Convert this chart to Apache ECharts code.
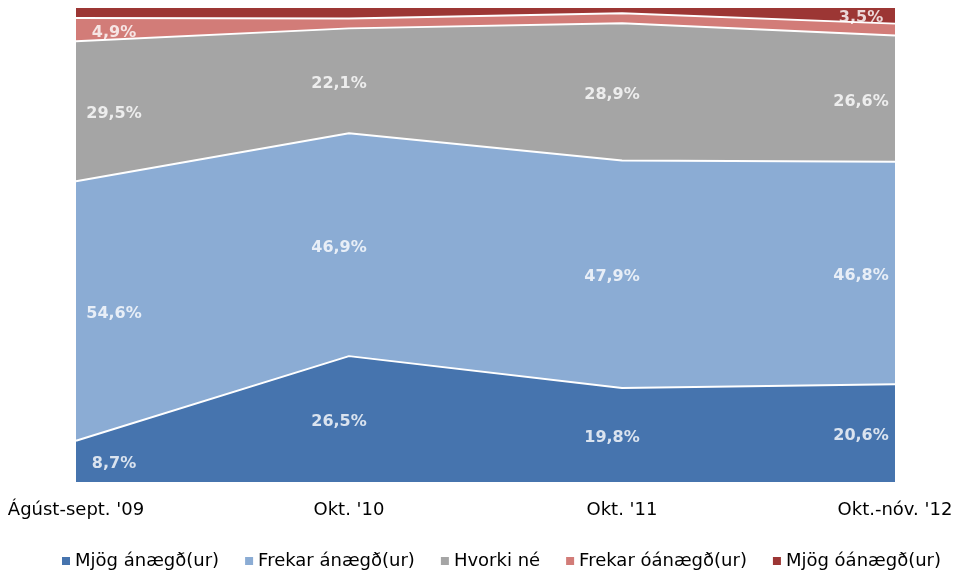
<!DOCTYPE html>
<html>
<head>
<meta charset="utf-8">
<script src="https://cdn.jsdelivr.net/npm/echarts@6/dist/echarts.min.js"></script>
<style>
  html, body { margin: 0; padding: 0; background: #fff; }
  #chart { width: 971px; height: 576px; }
</style>
</head>
<body>
<div id="chart"></div>
<script>
// Survey periods
const categories = ["Ágúst-sept. '09", "Okt. '10", "Okt. '11", "Okt.-nóv. '12"];

// Share of respondents (%) per answer, bottom of the stack first
const mjogAnaegd = [8.7, 26.5, 19.8, 20.6];
const frekarAnaegd = [54.6, 46.9, 47.9, 46.8];
const hvorkiNe = [29.5, 22.1, 28.9, 26.6];
const frekarOanaegd = [4.9, 2.1, 2.1, 2.5];
const mjogOanaegd = [2.3, 2.4, 1.3, 3.5];

const seriesNames = ['Mjög ánægð(ur)', 'Frekar ánægð(ur)', 'Hvorki né', 'Frekar óánægð(ur)', 'Mjög óánægð(ur)'];
const seriesValues = [mjogAnaegd, frekarAnaegd, hvorkiNe, frekarOanaegd, mjogOanaegd];
const colors = ['#4674AE', '#8BACD4', '#A5A5A5', '#D27C78', '#9C3634'];

const fmt = v => v.toFixed(1).replace('.', ',') + '%';

// Stacked areas, white separating lines on top of each band
const areaSeries = seriesValues.map((vals, i) => ({
  name: seriesNames[i],
  type: 'line',
  stack: 'total',
  data: vals,
  symbol: 'none',
  z: 10 - i,
  itemStyle: { color: colors[i] },
  lineStyle: { color: '#ffffff', width: 2 },
  areaStyle: { color: colors[i], opacity: 1 },
  emphasis: { disabled: true },
  silent: true
}));

// Value labels sit at the middle of each band; small bands are labelled only when wide enough
const labelPoints = [];
const base = categories.map(() => 0);
seriesValues.forEach(vals => {
  vals.forEach((v, j) => {
    if (v >= 3) {
      const shift = j === 0 ? 38 : (j === categories.length - 1 ? -34 : -10);
      labelPoints.push({
        value: [j, base[j] + v / 2],
        text: fmt(v),
        label: { offset: [shift, 3] }
      });
    }
    base[j] += v;
  });
});

const labelSeries = {
  type: 'scatter',
  data: labelPoints,
  symbolSize: 1,
  itemStyle: { color: 'rgba(0,0,0,0)' },
  z: 20,
  silent: true,
  label: {
    show: true,
    position: 'inside',
    color: '#ffffff',
    fontFamily: 'DejaVu Sans',
    fontWeight: 'bold',
    fontSize: 16,
    formatter: p => p.data.text
  }
};

const chart = echarts.init(document.getElementById('chart'));
chart.setOption({
  animation: false,
  backgroundColor: '#ffffff',
  grid: { left: 76, right: 76, top: 7, bottom: 94 },
  xAxis: {
    type: 'category',
    data: categories,
    boundaryGap: false,
    axisLine: { show: false },
    axisTick: { show: false },
    splitLine: { show: false },
    axisLabel: {
      margin: 19,
      color: '#000000',
      fontFamily: 'DejaVu Sans',
      fontSize: 18
    }
  },
  yAxis: {
    type: 'value',
    min: 0,
    max: 100,
    show: false
  },
  legend: {
    data: seriesNames,
    bottom: 1,
    left: 57,
    icon: 'rect',
    itemWidth: 8,
    itemHeight: 8,
    itemGap: 26,
    textStyle: { color: '#000000', fontFamily: 'DejaVu Sans', fontSize: 18, padding: [0, 0, 0, 0] }
  },
  series: [...areaSeries, labelSeries]
});
</script>
</body>
</html>
